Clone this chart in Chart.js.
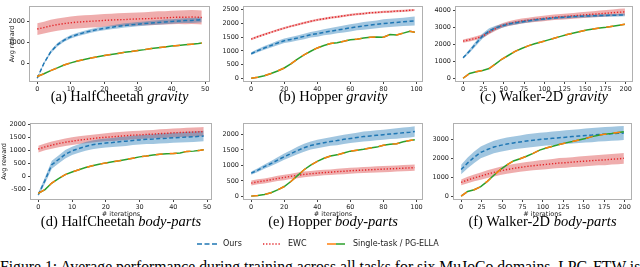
<!DOCTYPE html>
<html>
<head>
<meta charset="utf-8">
<script src="https://cdn.jsdelivr.net/npm/chart.js@4.4.0/dist/chart.umd.min.js"></script>
<style>
  body { margin: 0; width: 640px; height: 267px; overflow: hidden; background: #fff; position: relative; }
  canvas { position: absolute; }
  .cap { position: absolute; font-family: "Liberation Serif", serif; font-size: 14.5px; line-height: 14.5px; white-space: nowrap; transform: translateX(-50%); color: #000; }
  .leg { position: absolute; font-family: "DejaVu Sans", sans-serif; font-size: 8px; line-height: 10px; color: #222; top: 239px; }
  .legsvg { position: absolute; top: 239px; }
  #fig { position: absolute; left: 0; top: 259px; width: 640px; overflow: hidden; white-space: nowrap; font-family: "Liberation Serif", serif; font-size: 15.7px; line-height: 15.7px; }
</style>
</head>
<body>

<script>
// x values (iterations)
var itersHC   = [0,2,4,6,8,10,12,14,16,18,20,22,24,26,28,30,32,34,36,38,40,42,44,46,48,49];
var itersHop  = [0,4,8,12,16,20,24,28,32,36,40,44,48,52,56,60,64,68,72,76,80,84,88,92,96,99];
var itersWalk = [0,8,16,24,32,40,48,56,64,72,80,88,96,104,112,120,128,136,144,152,160,168,176,184,192,199];

// (a) HalfCheetah gravity
var hcGravOurs     = [-690,20,560,900,1120,1280,1390,1480,1560,1630,1680,1730,1780,1820,1850,1880,1910,1940,1960,1990,2010,2030,2050,2060,2080,2090];
var hcGravOursSd   = [30,50,70,80,80,80,80,90,90,90,90,90,100,100,100,100,100,100,110,110,110,110,110,120,120,120];
var hcGravEwc      = [1650,1720,1800,1860,1910,1950,1980,2000,2020,2040,2060,2080,2090,2100,2120,2130,2140,2150,2170,2180,2200,2210,2210,2220,2210,2200];
var hcGravEwcSd    = [280,280,290,290,290,300,300,300,300,300,300,300,310,310,310,310,310,320,320,320,320,320,330,330,330,330];
var hcGravSingle   = [-610,-480,-330,-200,-60,40,130,200,270,330,390,440,490,540,580,630,670,720,760,800,840,870,900,930,960,980];

// (b) Hopper gravity
var hopGravOurs    = [900,1010,1110,1200,1290,1370,1420,1470,1530,1590,1630,1680,1720,1760,1800,1840,1880,1910,1940,1970,2000,2020,2040,2060,2080,2090];
var hopGravOursSd  = [50,60,70,70,80,80,90,90,100,100,110,110,120,120,130,130,130,140,140,140,150,150,150,150,160,160];
var hopGravEwc     = [1430,1520,1600,1680,1760,1830,1900,1960,2020,2080,2130,2170,2210,2240,2280,2310,2340,2360,2390,2400,2420,2430,2450,2460,2480,2490];
var hopGravEwcSd   = [40,40,40,40,40,40,40,40,40,40,40,40,40,40,40,40,40,40,40,40,40,40,40,40,40,40];
var hopGravSingle  = [10,40,100,180,270,380,530,700,860,990,1110,1200,1270,1300,1350,1410,1430,1470,1500,1510,1500,1600,1580,1650,1720,1680];

// (c) Walker-2D gravity
var walkGravOurs   = [1200,1600,2050,2480,2780,2960,3080,3180,3250,3310,3370,3420,3460,3500,3540,3570,3590,3620,3640,3650,3670,3680,3690,3700,3710,3720];
var walkGravOursSd = [60,100,140,150,150,130,110,100,100,90,90,90,80,80,80,80,80,80,80,80,80,80,80,80,80,80];
var walkGravEwc    = [2180,2260,2350,2480,2700,2920,3100,3210,3290,3360,3410,3460,3500,3540,3580,3610,3640,3670,3700,3730,3760,3790,3820,3850,3880,3900];
var walkGravEwcSd  = [100,100,110,110,120,130,130,140,140,150,150,150,160,160,160,170,170,170,180,180,180,190,190,190,200,200];
var walkGravSingle = [0,280,380,460,570,850,1130,1350,1580,1750,1900,2030,2130,2240,2350,2460,2570,2660,2750,2830,2890,2950,3000,3060,3120,3170];

// (d) HalfCheetah body-parts
var hcBodyOurs     = [-700,-150,450,650,850,980,1070,1150,1210,1250,1280,1300,1330,1350,1380,1400,1420,1430,1450,1460,1480,1490,1510,1520,1540,1550];
var hcBodyOursSd   = [80,120,150,150,160,160,160,170,170,170,170,170,180,180,180,180,180,190,190,190,190,190,200,200,200,200];
var hcBodyEwc      = [1050,1130,1200,1260,1310,1350,1390,1420,1450,1480,1500,1520,1540,1560,1580,1590,1610,1620,1640,1650,1670,1680,1690,1700,1710,1720];
var hcBodyEwcSd    = [130,130,140,140,140,150,150,150,150,150,150,160,160,160,160,160,160,160,170,170,170,170,170,170,170,170];
var hcBodySingle   = [-650,-500,-250,-80,70,170,260,340,410,470,520,560,600,650,700,750,780,820,850,870,880,900,960,970,1000,1020];

// (e) Hopper body-parts
var hopBodyOurs    = [750,850,960,1060,1170,1280,1380,1480,1570,1640,1690,1730,1770,1800,1840,1870,1900,1930,1950,1970,1990,2010,2030,2050,2070,2090];
var hopBodyOursSd  = [50,60,70,80,90,100,110,120,130,130,140,140,140,150,150,150,150,160,160,160,160,160,170,170,170,170];
var hopBodyEwc     = [430,470,500,540,580,610,650,680,710,730,750,770,780,800,810,830,840,850,860,870,880,890,900,910,920,930];
var hopBodyEwcSd   = [80,80,80,80,85,85,85,90,90,90,90,90,90,95,95,95,95,95,100,100,100,100,100,100,100,100];
var hopBodySingle  = [10,30,60,120,210,320,480,670,860,1010,1130,1230,1300,1340,1400,1460,1490,1520,1560,1590,1650,1680,1700,1760,1800,1830];

// (f) Walker-2D body-parts
var walkBodyOurs   = [1400,1750,2050,2300,2450,2580,2670,2740,2800,2850,2900,2940,2980,3010,3040,3070,3100,3130,3160,3190,3210,3240,3260,3280,3300,3320];
var walkBodyOursSd = [250,280,300,310,320,330,330,340,340,340,350,350,350,350,360,360,360,360,360,370,370,370,370,370,370,370];
var walkBodyEwc    = [730,850,960,1060,1160,1250,1330,1400,1460,1510,1560,1600,1640,1670,1710,1740,1760,1790,1820,1840,1870,1890,1910,1940,1960,1990];
var walkBodyEwcSd  = [150,170,180,190,200,210,220,220,230,230,240,240,250,250,250,260,260,260,270,270,270,270,280,280,280,280];
var walkBodySingle = [0,250,340,500,780,1100,1400,1650,1850,1970,2100,2250,2420,2530,2620,2720,2800,2870,2950,3030,3130,3200,3260,3300,3350,3390];

// tick labels
var xTicksHC   = [0,10,20,30,40,50];
var xTicksHop  = [0,20,40,60,80,100];
var xTicksWalk = [0,25,50,75,100,125,150,175,200];
var yTicksA = [0,1000,2000];
var yTicksB = [0,500,1000,1500,2000,2500];
var yTicksC = [0,1000,2000,3000,4000];
var yTicksD = [-500,0,500,1000,1500,2000];
var yTicksE = [0,500,1000,1500,2000];
var yTicksF = [0,1000,2000,3000];

var captions = [
  '(a) HalfCheetah <i>gravity</i>', '(b) Hopper <i>gravity</i>', '(c) Walker-2D <i>gravity</i>',
  '(d) HalfCheetah <i>body-parts</i>', '(e) Hopper <i>body-parts</i>', '(f) Walker-2D <i>body-parts</i>'
];

var BLUE = '#1f77b4', RED = '#e3262a', GREEN = '#2ca02c', ORANGE = '#ff7f0e';
var tickFont = { family: 'DejaVu Sans', size: 6.5 };

// plot boxes in page pixels: [left, top, right, bottom]
var panels = [
  { x: itersHC,   ours: hcGravOurs,   oursSd: hcGravOursSd,   ewc: hcGravEwc,   ewcSd: hcGravEwcSd,   single: hcGravSingle,
    xr: [-2.45, 51.45], yr: [-870, 2750], xt: xTicksHC, yt: yTicksA, box: [29, 1, 210, 82], yw: 21, yTitle: true, xTitle: false },
  { x: itersHop,  ours: hopGravOurs,  oursSd: hopGravOursSd,  ewc: hopGravEwc,  ewcSd: hopGravEwcSd,  single: hopGravSingle,
    xr: [-4.95, 103.95], yr: [-130, 2640], xt: xTicksHop, yt: yTicksB, box: [243, 1, 423, 82], yw: 30, yTitle: false, xTitle: false },
  { x: itersWalk, ours: walkGravOurs, oursSd: walkGravOursSd, ewc: walkGravEwc, ewcSd: walkGravEwcSd, single: walkGravSingle,
    xr: [-9.95, 208.95], yr: [-220, 4250], xt: xTicksWalk, yt: yTicksC, box: [455, 1, 633, 82], yw: 30, yTitle: false, xTitle: false },
  { x: itersHC,   ours: hcBodyOurs,   oursSd: hcBodyOursSd,   ewc: hcBodyEwc,   ewcSd: hcBodyEwcSd,   single: hcBodySingle,
    xr: [-2.45, 51.45], yr: [-900, 2050], xt: xTicksHC, yt: yTicksD, box: [30, 118, 212, 200], yw: 30, yTitle: true, xTitle: true },
  { x: itersHop,  ours: hopBodyOurs,  oursSd: hopBodyOursSd,  ewc: hopBodyEwc,  ewcSd: hopBodyEwcSd,  single: hopBodySingle,
    xr: [-4.95, 103.95], yr: [-115, 2370], xt: xTicksHop, yt: yTicksE, box: [243, 118, 423, 200], yw: 30, yTitle: false, xTitle: true },
  { x: itersWalk, ours: walkBodyOurs, oursSd: walkBodyOursSd, ewc: walkBodyEwc, ewcSd: walkBodyEwcSd, single: walkBodySingle,
    xr: [-9.95, 208.95], yr: [-200, 3850], xt: xTicksWalk, yt: yTicksF, box: [453, 118, 632, 200], yw: 30, yTitle: false, xTitle: true }
];

function pts(xs, ys, sd, sign) {
  return xs.map(function (x, i) { return { x: x, y: ys[i] + (sd ? sign * sd[i] : 0) }; });
}

// light grey frame round the plot area
var frame = {
  id: 'frame',
  afterDatasetsDraw: function (chart) {
    var a = chart.chartArea, ctx = chart.ctx;
    ctx.save();
    ctx.strokeStyle = '#b0b0b0';
    ctx.lineWidth = 1;
    ctx.strokeRect(Math.round(a.left) + 0.5, Math.round(a.top) + 0.5, Math.round(a.right - a.left) - 1, Math.round(a.bottom - a.top) - 1);
    ctx.restore();
  }
};

function plain(v) { return String(v); }

panels.forEach(function (p, k) {
  var xh = p.xTitle ? 18 : 10;
  var left = p.box[0] - p.yw, top = p.box[1] - 1;
  var w = p.box[2] + 4 - left, h = p.box[3] + xh - top;
  var cv = document.createElement('canvas');
  cv.width = w; cv.height = h;
  cv.style.left = left + 'px'; cv.style.top = top + 'px';
  document.body.appendChild(cv);

  var line = { pointRadius: 0, fill: false, tension: 0 };
  new Chart(cv, {
    type: 'line',
    data: {
      datasets: [
        Object.assign({ data: pts(p.x, p.single), borderColor: ORANGE, borderWidth: 1.5, borderDash: [7, 7], order: 0 }, line),
        Object.assign({ data: pts(p.x, p.single), borderColor: GREEN, borderWidth: 1.5, order: 1 }, line),
        Object.assign({ data: pts(p.x, p.ours), borderColor: BLUE, borderWidth: 1.5, borderDash: [4, 2.5], order: 2 }, line),
        Object.assign({ data: pts(p.x, p.ewc), borderColor: RED, borderWidth: 1.4, borderDash: [1.3, 1.8], order: 3 }, line),
        { data: pts(p.x, p.ours, p.oursSd, 1), borderWidth: 0, pointRadius: 0, fill: '+1', backgroundColor: 'rgba(31,119,180,0.42)', order: 4 },
        { data: pts(p.x, p.ours, p.oursSd, -1), borderWidth: 0, pointRadius: 0, fill: false, order: 5 },
        { data: pts(p.x, p.ewc, p.ewcSd, 1), borderWidth: 0, pointRadius: 0, fill: '+1', backgroundColor: 'rgba(214,39,40,0.38)', order: 6 },
        { data: pts(p.x, p.ewc, p.ewcSd, -1), borderWidth: 0, pointRadius: 0, fill: false, order: 7 }
      ]
    },
    options: {
      responsive: false,
      animation: false,
      layout: { autoPadding: false, padding: { left: 0, top: 1, right: 4, bottom: 0 } },
      plugins: { legend: { display: false }, tooltip: { enabled: false } },
      scales: {
        x: {
          type: 'linear', min: p.xr[0], max: p.xr[1],
          afterBuildTicks: function (s) { s.ticks = p.xt.map(function (v) { return { value: v }; }); },
          afterFit: function (s) { s.height = xh; },
          grid: { display: true, drawOnChartArea: false, tickLength: 2, tickColor: '#444' },
          border: { display: false },
          ticks: { autoSkip: false, maxRotation: 0, padding: 1, color: '#222', font: tickFont, callback: plain },
          title: { display: p.xTitle, text: '# iterations', color: '#222', font: tickFont, padding: { top: 0, bottom: 0 } }
        },
        y: {
          type: 'linear', min: p.yr[0], max: p.yr[1],
          afterBuildTicks: function (s) { s.ticks = p.yt.map(function (v) { return { value: v }; }); },
          afterFit: function (s) { s.width = p.yw; },
          grid: { display: true, drawOnChartArea: false, tickLength: 2, tickColor: '#444' },
          border: { display: false },
          ticks: { padding: 2, color: '#222', font: tickFont, callback: plain },
          title: { display: p.yTitle, text: 'Avg reward', color: '#222', font: tickFont, padding: { top: 0, bottom: 0 } }
        }
      }
    },
    plugins: [frame]
  });

  var cap = document.createElement('div');
  cap.className = 'cap';
  cap.innerHTML = captions[k];
  cap.style.left = ((p.box[0] + p.box[2]) / 2) + 'px';
  cap.style.top = (p.box[1] < 50 ? 89 : 214) + 'px';
  document.body.appendChild(cap);
});
</script>

<svg class="legsvg" style="left:196px" width="22" height="10"><line x1="1" y1="5" x2="21" y2="5" stroke="#1f77b4" stroke-width="1.5" stroke-dasharray="5,2.5"/></svg>
<div class="leg" style="left:223px">Ours</div>
<svg class="legsvg" style="left:262px" width="20" height="10"><line x1="1" y1="5" x2="19" y2="5" stroke="#e3262a" stroke-width="1.4" stroke-dasharray="1.3,1.8"/></svg>
<div class="leg" style="left:288px">EWC</div>
<svg class="legsvg" style="left:326px" width="20" height="10"><line x1="1" y1="5" x2="10" y2="5" stroke="#ff7f0e" stroke-width="1.5"/><line x1="10" y1="5" x2="19" y2="5" stroke="#2ca02c" stroke-width="1.5"/></svg>
<div class="leg" style="left:353px">Single-task / PG-ELLA</div>

<div id="fig">Figure 1: Average performance during training across all tasks for six MuJoCo domains. LPG-FTW is</div>
</body>
</html>
